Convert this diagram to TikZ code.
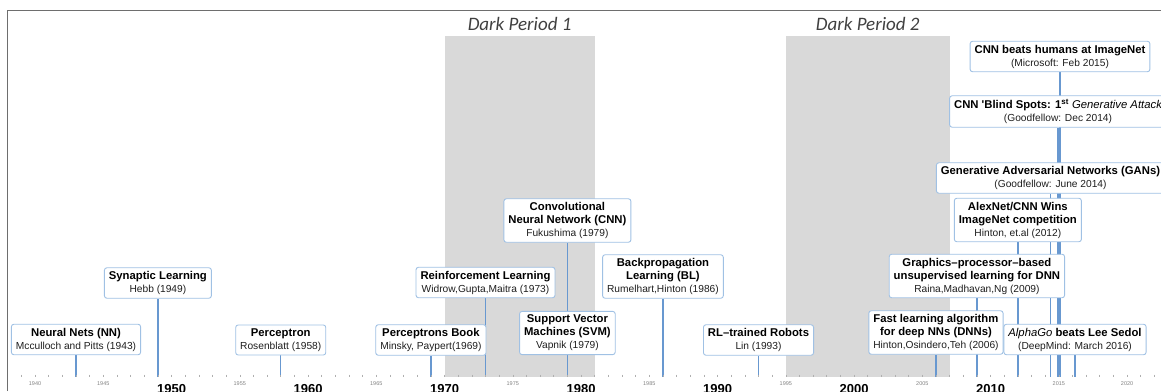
\documentclass[tikz,border=0pt]{standalone}
\usepackage{fontspec}
\setmainfont{Liberation Sans}
\newfontfamily\dpfont{Carlito}
\usetikzlibrary{backgrounds}

\definecolor{boxc}{RGB}{160,193,228}
\definecolor{stemc}{RGB}{104,152,208}
\definecolor{shadec}{RGB}{217,217,217}
\definecolor{framec}{RGB}{110,110,110}
\definecolor{dpc}{RGB}{64,64,64}
\definecolor{subc}{RGB}{30,30,30}
\definecolor{tickc}{RGB}{175,175,175}
\definecolor{minorc}{RGB}{130,130,130}

% title line and subtitle line of an event box
\newcommand\EvT[1]{{\bfseries\fontsize{11.3}{13}\selectfont #1}}
\newcommand\EvS[1]{{\color{subc}\fontsize{10.2}{13}\selectfont #1}}
% year -> horizontal position
\newcommand\yx[1]{76+13.65*(#1-1943)}

\tikzset{
  ev/.style={draw=boxc, fill=white, line width=0.9pt, rounded corners=2.5pt,
    align=center, inner xsep=4.5pt, inner ysep=3.6pt,
    font=\fontsize{10.2}{13}\selectfont},
  stem/.style={draw=stemc, line width=1.4pt},
  dark/.style={fill=shadec, draw=none},
  dptitle/.style={font=\dpfont\itshape\fontsize{19}{22}\selectfont, text=dpc, anchor=base, inner sep=0pt},
  bigyr/.style={font=\bfseries\fontsize{13}{15}\selectfont, anchor=base, inner sep=0pt},
  smallyr/.style={font=\fontsize{5.5}{6}\selectfont, text=minorc, anchor=base, inner sep=0pt},
  yrtick/.style={draw=tickc, line width=0.6pt},
  frame/.style={draw=framec, line width=1.4pt},
}

\begin{document}
\begin{tikzpicture}[x=1pt, y=-1pt]
\useasboundingbox (0,0) rectangle (1161,391);

% axis reference
\coordinate (axis) at (0,377);

% frame
\draw[frame] (7.5,391) -- (7.5,10.5) -- (1161,10.5);

% dark period titles
\node[dptitle] (dp1) at ({(\yx{1970}+\yx{1981})/2},30.5) {Dark Period 1};
\node[dptitle] (dp2) at ({(\yx{1995}+\yx{2007})/2},30.5) {Dark Period 2};

% events
\node[ev] (nn) at ({\yx{1943}},339.5) {\EvT{Neural Nets (NN)}\\\EvS{Mcculloch and Pitts (1943)}};
\node[ev] (hebb) at ({\yx{1949}},283) {\EvT{Synaptic Learning}\\\EvS{Hebb (1949)}};
\node[ev] (perc) at ({\yx{1958}},340) {\EvT{Perceptron}\\\EvS{Rosenblatt (1958)}};
\node[ev] (book) at ({\yx{1969}},340) {\EvT{Perceptrons Book}\\\EvS{Minsky, Paypert(1969)}};
\node[ev] (rl) at ({\yx{1973}},282.5) {\EvT{Reinforcement Learning}\\\EvS{Widrow,Gupta,Maitra (1973)}};
\node[ev] (cnn) at ({\yx{1979}},220.5) {\EvT{Convolutional}\\\EvT{Neural Network (CNN)}\\\EvS{Fukushima (1979)}};
\node[ev] (svm) at ({\yx{1979}},333) {\EvT{Support Vector}\\\EvT{Machines (SVM)}\\\EvS{Vapnik (1979)}};
\node[ev] (bp) at ({\yx{1986}},276.5) {\EvT{Backpropagation}\\\EvT{Learning (BL)}\\\EvS{Rumelhart,Hinton (1986)}};
\node[ev] (robots) at ({\yx{1993}},340) {\EvT{RL–trained Robots}\\\EvS{Lin (1993)}};
\node[ev] (fast) at ({\yx{2006}},332.5) {\EvT{Fast learning algorithm}\\\EvT{for deep NNs (DNNs)}\\\EvS{Hinton,Osindero,Teh (2006)}};
\node[ev] (gpu) at ({\yx{2009}},276) {\EvT{Graphics–processor–based}\\\EvT{unsupervised learning for DNN}\\\EvS{Raina,Madhavan,Ng (2009)}};
\node[ev] (alex) at ({\yx{2012}},220) {\EvT{AlexNet/CNN Wins}\\\EvT{ImageNet competition}\\\EvS{Hinton, et.al (2012)}};
\node[ev] (gan) at (1050.5,178) {\EvT{Generative Adversarial Networks (GANs)}\\\EvS{(Goodfellow: June 2014)}};
\node[ev] (blind) at (1058,111.5) {\EvT{CNN \textquotesingle Blind Spots: 1\textsuperscript{st} {\mdseries\itshape Generative Attack}}\\\EvS{(Goodfellow: Dec 2014)}};
\node[ev] (beat) at (1060,56.5) {\EvT{CNN beats humans at ImageNet}\\\EvS{(Microsoft: Feb 2015)}};
\node[ev] (alpha) at (1075,339.5) {\EvT{{\mdseries\itshape AlphaGo} beats Lee Sedol}\\\EvS{(DeepMind: March 2016)}};

% year axis: ticks and labels
\foreach \yr in {1939,...,2022} {
  \draw[yrtick] ({\yx{\yr}},374.5) -- ({\yx{\yr}},377);
}
\foreach \yr in {1950,1960,...,2010} {
  \node[bigyr] (big\yr) at ({\yx{\yr}},393) {\yr};
}
\foreach \yr in {1940,1945,1955,1965,1975,1985,1995,2005,2015,2020} {
  \node[smallyr] (small\yr) at ({\yx{\yr}},385.5) {\yr};
}

\begin{scope}[on background layer]
  % dark periods
  \fill[dark] ({\yx{1970}},36) rectangle ({\yx{1981}},377);
  \fill[dark] ({\yx{1995}},36) rectangle ({\yx{2007}},377);
  % stems from each event down to the axis
  \foreach \ev in {nn,hebb,perc,book,rl,cnn,svm,bp,robots,fast,gpu,alex,gan,blind,beat,alpha} {
    \draw[stem] (\ev.south) -- (\ev.south |- axis);
  }
\end{scope}
\end{tikzpicture}
\end{document}
